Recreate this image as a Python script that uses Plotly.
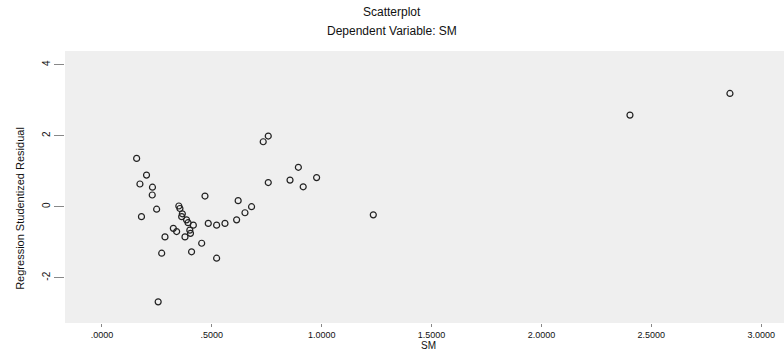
import plotly.graph_objects as go

# SM (x) and Regression Studentized Residual (y)
sm = [0.158, 0.203, 0.173, 0.229, 0.249, 0.180, 0.355, 0.363, 0.385, 0.416,
      0.400, 0.378, 0.325, 0.287, 0.272, 0.408, 0.454, 0.522, 0.469, 0.484,
      0.522, 0.560, 0.613, 0.651, 0.620, 0.681, 0.734, 0.757, 0.757, 0.856,
      0.894, 0.916, 0.977, 1.235, 0.256, 2.403, 2.858, 0.350, 0.392, 0.403,
      0.340, 0.366, 0.230]
resid = [1.36, 0.89, 0.64, 0.33, -0.07, -0.28, -0.05, -0.28, -0.37, -0.52,
         -0.66, -0.85, -0.61, -0.85, -1.31, -1.27, -1.03, -1.45, 0.30, -0.47,
         -0.52, -0.47, -0.37, -0.17, 0.17, 0.00, 1.83, 1.99, 0.68, 0.75,
         1.11, 0.56, 0.82, -0.23, -2.68, 2.58, 3.19, 0.02, -0.45, -0.75,
         -0.70, -0.20, 0.55]

x_ticks = [0.0, 0.5, 1.0, 1.5, 2.0, 2.5, 3.0]
x_tick_text = [".0000", ".5000", "1.0000", "1.5000", "2.0000", "2.5000", "3.0000"]
y_ticks = [-2, 0, 2, 4]
y_tick_text = ["-2", "0", "2", "4"]

fig = go.Figure()
fig.add_trace(go.Scatter(
    x=sm, y=resid, mode="markers",
    marker=dict(symbol="circle-open", size=6, color="#222222", line=dict(width=1.2)),
    showlegend=False, hoverinfo="x+y"))

font = "Liberation Sans, Arial, sans-serif"
fig.update_layout(
    width=784, height=353,
    margin=dict(l=65, r=0, t=51, b=30, autoexpand=False),
    paper_bgcolor="white", plot_bgcolor="#efefef",
    font=dict(family=font, size=10, color="#111111"),
    showlegend=False,
    annotations=[
        dict(text="Scatterplot", xref="paper", yref="paper", x=0.455, y=1.143,
             showarrow=False, xanchor="center", yanchor="middle",
             font=dict(size=12, color="#111111")),
        dict(text="Dependent Variable: SM", xref="paper", yref="paper", x=0.455, y=1.074,
             showarrow=False, xanchor="center", yanchor="middle",
             font=dict(size=12, color="#111111")),
        dict(text="SM", xref="paper", yref="paper", x=0.506, y=-0.112,
             showarrow=False, xanchor="center", yanchor="bottom",
             font=dict(size=10, color="#111111")),
        dict(text="Regression Studentized Residual", xref="paper", yref="paper",
             x=-0.0625, y=0.42, textangle=-90, showarrow=False,
             xanchor="center", yanchor="middle",
             font=dict(size=11, color="#111111",
                       family="Liberation Sans Narrow, Liberation Sans, sans-serif")),
    ],
)
fig.update_xaxes(range=[-0.168, 3.104], tickvals=x_ticks, ticktext=x_tick_text,
                 ticks="outside", ticklen=3, tickcolor="#888888",
                 showgrid=False, zeroline=False, showline=False, automargin=False,
                 tickfont=dict(size=9))
fig.update_yaxes(range=[-3.276, 4.386], tickvals=y_ticks, ticktext=y_tick_text,
                 ticks="outside", ticklen=10, tickcolor="#888888", tickangle=-90,
                 showgrid=False, zeroline=False, showline=False, automargin=False,
                 tickfont=dict(size=10))

fig.write_html("out.html", config={"displayModeBar": False},
               post_script="document.body.style.margin='0';document.body.style.overflow='hidden';")
